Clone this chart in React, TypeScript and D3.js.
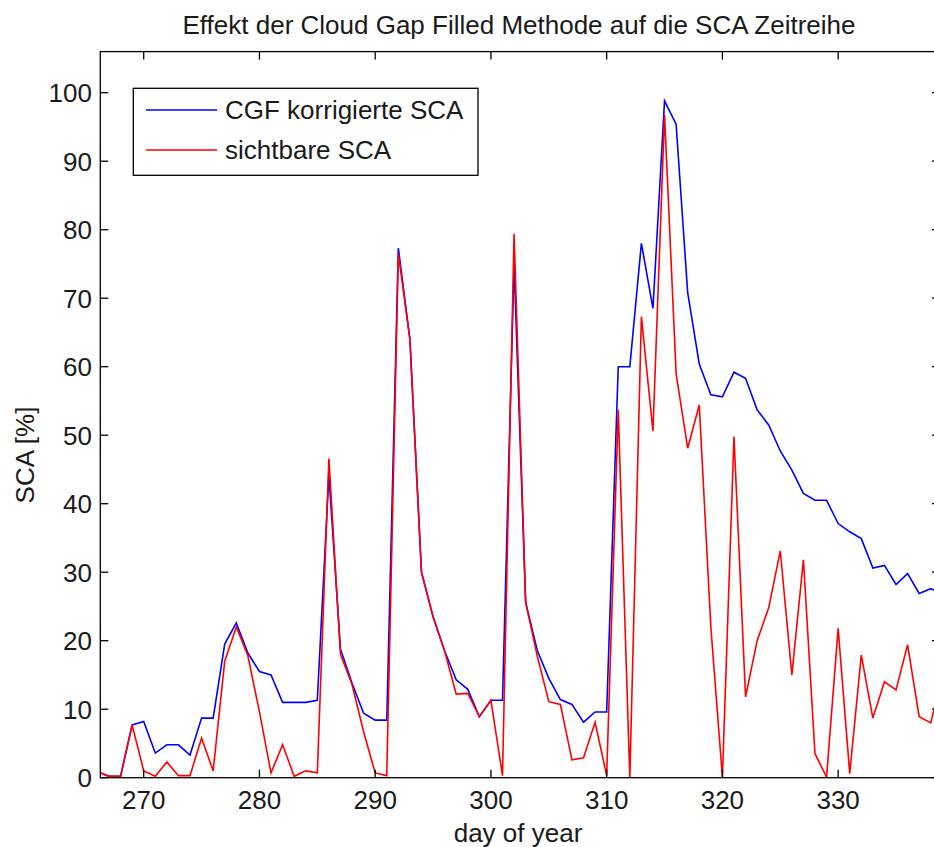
import React from "react";
import * as d3 from "d3";

const days: number[] = d3.range(266, 340);

const cgfSCA: number[] = [
  0.9, 0.2, 0.2, 7.7, 8.2, 3.6, 4.8, 4.8, 3.3, 8.7,
  8.7, 19.5, 22.6, 18.2, 15.5, 15.0, 11.0, 11.0, 11.0, 11.3,
  44.2, 18.8, 13.8, 9.4, 8.4, 8.4, 77.3, 64.0, 30.0, 23.5,
  18.5, 14.3, 12.9, 8.9, 11.3, 11.3, 75.0, 25.6, 18.6, 14.5,
  11.4, 10.7, 8.1, 9.6, 9.6, 60.0, 60.0, 78.0, 68.5, 98.8,
  95.4, 70.8, 60.4, 55.9, 55.6, 59.2, 58.3, 53.7, 51.5, 47.7,
  44.9, 41.5, 40.5, 40.5, 37.1, 35.9, 34.9, 30.6, 31.0, 28.2,
  29.8, 26.9, 27.6, 26.8,
];

const visibleSCA: number[] = [
  0.9, 0.2, 0.2, 7.7, 1.0, 0.2, 2.3, 0.3, 0.3, 5.8,
  1.0, 17.0, 22.0, 17.8, 9.6, 0.7, 4.8, 0.2, 1.0, 0.7,
  46.6, 18.0, 13.6, 6.7, 0.7, 0.3, 76.5, 64.0, 30.0, 23.5,
  18.5, 12.2, 12.3, 8.9, 11.3, 0.3, 79.4, 25.6, 17.8, 11.1,
  10.7, 2.6, 2.9, 8.1, 0.3, 53.7, 0.0, 67.3, 50.6, 96.8,
  59.0, 48.1, 54.4, 22.0, 0.1, 49.8, 11.8, 20.0, 24.8, 33.1,
  15.0, 31.8, 3.5, 0.1, 21.8, 0.6, 17.9, 8.7, 14.0, 12.8,
  19.4, 8.9, 8.0, 15.0,
];

const xTicks: number[] = [270, 280, 290, 300, 310, 320, 330];
const yTicks: number[] = [0, 10, 20, 30, 40, 50, 60, 70, 80, 90, 100];
const seriesNames: string[] = ["CGF korrigierte SCA", "sichtbare SCA"];
const seriesColors: string[] = ["#0000ff", "#ff0000"];

const W = 934;
const H = 847;
const left = 100.3;
const right = 940;
const top = 51.6;
const bottom = 777.7;
const FONT = "'Liberation Sans', Arial, Helvetica, sans-serif";

export default function App() {
  const x = d3.scaleLinear().domain([266.25, 338.8]).range([left, right]);
  const y = d3.scaleLinear().domain([0, 106]).range([bottom, top]);
  const line = d3
    .line<number>()
    .x((_, i) => x(days[i]))
    .y((v) => y(v));
  const tick = 8;
  const series = [cgfSCA, visibleSCA];

  return (
    <svg
      width={W}
      height={H}
      style={{ position: "absolute", left: 0, top: 0, background: "#fff" }}
      fontFamily={FONT}
    >
      <defs>
        <clipPath id="plotClip">
          <rect x={left} y={top} width={right - left} height={bottom - top} />
        </clipPath>
      </defs>
      <rect x={0} y={0} width={W} height={H} fill="#fff" />
      <g clipPath="url(#plotClip)">
        {series.map((s, k) => (
          <path
            key={k}
            d={line(s) || ""}
            fill="none"
            stroke={seriesColors[k]}
            strokeWidth={1.6}
            strokeLinejoin="miter"
          />
        ))}
      </g>
      <rect
        x={left}
        y={top}
        width={right - left}
        height={bottom - top}
        fill="none"
        stroke="#000"
        strokeWidth={1.3}
      />
      {xTicks.map((t) => (
        <g key={"x" + t}>
          <line x1={x(t)} x2={x(t)} y1={bottom} y2={bottom - tick} stroke="#000" strokeWidth={1.3} />
          <line x1={x(t)} x2={x(t)} y1={top} y2={top + tick} stroke="#000" strokeWidth={1.3} />
          <text x={x(t)} y={808.5} textAnchor="middle" fontSize={26} fill="#1a1a1a">
            {t}
          </text>
        </g>
      ))}
      {yTicks.map((t) => (
        <g key={"y" + t}>
          <line x1={left} x2={left + tick} y1={y(t)} y2={y(t)} stroke="#000" strokeWidth={1.3} />
          <line x1={right} x2={right - tick} y1={y(t)} y2={y(t)} stroke="#000" strokeWidth={1.3} />
          <text x={92} y={y(t) + 9.3} textAnchor="end" fontSize={26} fill="#1a1a1a">
            {t}
          </text>
        </g>
      ))}
      <text x={519} y={34} textAnchor="middle" fontSize={26} fill="#1a1a1a">
        Effekt der Cloud Gap Filled Methode auf die SCA Zeitreihe
      </text>
      <text x={518} y={842} textAnchor="middle" fontSize={26} fill="#1a1a1a">
        day of year
      </text>
      <text
        transform="translate(34, 455) rotate(-90)"
        textAnchor="middle"
        fontSize={26}
        fill="#1a1a1a"
      >
        SCA [%]
      </text>
      <rect x={133.3} y={88.3} width={344.7} height={87} fill="#fff" stroke="#000" strokeWidth={1.3} />
      {seriesNames.map((n, k) => (
        <g key={n}>
          <line
            x1={146}
            x2={217}
            y1={110 + k * 40}
            y2={110 + k * 40}
            stroke={seriesColors[k]}
            strokeWidth={1.6}
          />
          <text x={225} y={110 + k * 40 + 9.3} fontSize={26} fill="#1a1a1a">
            {n}
          </text>
        </g>
      ))}
    </svg>
  );
}
